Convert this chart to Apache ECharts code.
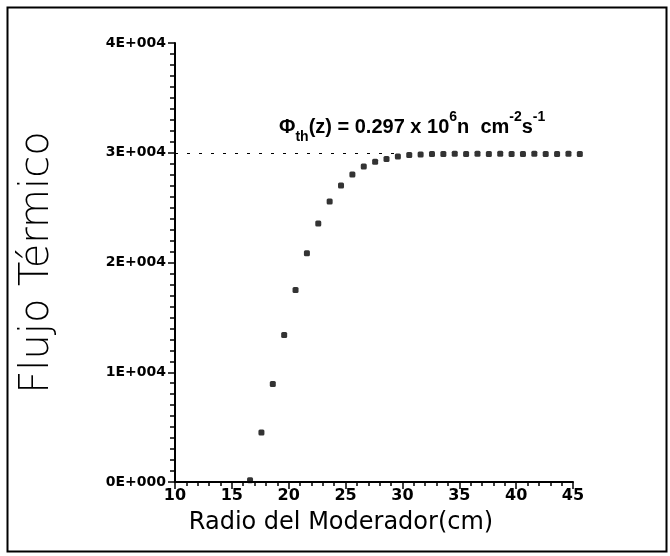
<!DOCTYPE html>
<html>
<head>
<meta charset="utf-8">
<script src="https://cdn.jsdelivr.net/npm/echarts@6/dist/echarts.min.js"></script>
<style>html,body{margin:0;padding:0;background:#fff}#c{width:670px;height:556px}</style>
</head>
<body>
<div id="c"></div>
<script>
// Data
var radius = [16.6, 17.6, 18.6, 19.6, 20.6, 21.6, 22.6, 23.6, 24.6, 25.6,
              26.6, 27.6, 28.6, 29.6, 30.6, 31.6, 32.6, 33.6, 34.6, 35.6,
              36.6, 37.6, 38.6, 39.6, 40.6, 41.6, 42.6, 43.6, 44.6, 45.6];
var flux = [150, 4500, 8940, 13400, 17500, 20850, 23550, 25560, 27020, 28020,
            28750, 29180, 29420, 29650, 29800, 29850, 29880, 29880, 29900, 29880,
            29900, 29880, 29900, 29880, 29880, 29900, 29880, 29880, 29900, 29880];
var yTickValues = [0, 10000, 20000, 30000, 40000];
var yTickLabels = ['0E+000', '1E+004', '2E+004', '3E+004', '4E+004'];
var refLevel = 30000;
var refFrom = 10, refTo = 30;
var xTitle = 'Radio del Moderador(cm)';
var yTitle = 'Flujo Térmico';

var chart = echarts.init(document.getElementById('c'), null, {renderer: 'canvas'});
var pts = radius.map(function (x, i) { return [x, flux[i]]; });
chart.setOption({
  animation: false,
  backgroundColor: '#fff',
  grid: {left: 175, right: 97, top: 43, bottom: 74, containLabel: false},
  xAxis: {
    type: 'value', min: 10, max: 45, interval: 5,
    axisLine: {lineStyle: {color: '#000', width: 2}},
    axisTick: {show: true, inside: false, length: 7, lineStyle: {color: '#000', width: 1.5}},
    minorTick: {show: true, splitNumber: 5, length: 4, lineStyle: {color: '#000', width: 1.5}},
    splitLine: {show: false},
    axisLabel: {color: '#000', fontFamily: 'DejaVu Sans', fontWeight: 'bold', fontSize: 16, margin: 6},
    name: xTitle, nameLocation: 'middle', nameGap: 29,
    nameTextStyle: {color: '#000', fontFamily: 'DejaVu Sans', fontSize: 24, padding: [0, 66, 0, 0]}
  },
  yAxis: {
    type: 'value', min: 0, max: 40000, interval: 10000,
    axisLine: {show: true, lineStyle: {color: '#000', width: 2}},
    axisTick: {show: true, inside: false, length: 7, lineStyle: {color: '#000', width: 1.5}},
    minorTick: {show: true, splitNumber: 10, length: 5, lineStyle: {color: '#000', width: 1.5}},
    splitLine: {show: false},
    axisLabel: {
      color: '#000', fontFamily: 'DejaVu Sans', fontWeight: 'bold', fontSize: 14, margin: 9,
      formatter: function (v) { var i = yTickValues.indexOf(v); return i >= 0 ? yTickLabels[i] : ''; }
    },
    name: yTitle, nameLocation: 'middle', nameGap: 117, nameRotate: 90,
    nameTextStyle: {color: '#000', fontFamily: 'DejaVu Sans', fontSize: 40, fontWeight: 'lighter'}
  },
  series: [{
    type: 'scatter',
    data: pts,
    symbol: 'roundRect',
    symbolSize: 6,
    clip: false,
    itemStyle: {color: '#000'},
    markLine: {
      silent: true,
      symbol: 'none',
      label: {show: false},
      lineStyle: {color: '#000', width: 1.2, type: [3, 9]},
      data: [[{coord: [refFrom, refLevel]}, {coord: [refTo, refLevel]}]]
    }
  }],
  graphic: [
    {type: 'rect', left: 5, top: 5, shape: {width: 659, height: 544},
     style: {fill: 'none', stroke: '#000', lineWidth: 2}, silent: true},
    {type: 'text', left: 279, top: 110,
     style: {
       text: '{b|Φ}{sub|th}{b|(z) = 0.297 x 10}{sup|6}{b|n  cm}{sup|-2}{b|s}{sup|-1}',
       rich: {
         b: {fontFamily: 'Liberation Sans', fontWeight: 'bold', fontSize: 20, lineHeight: 34, verticalAlign: 'middle', fill: '#000'},
         sub: {fontFamily: 'Liberation Sans', fontWeight: 'bold', fontSize: 14, lineHeight: 34, verticalAlign: 'bottom', fill: '#000'},
         sup: {fontFamily: 'Liberation Sans', fontWeight: 'bold', fontSize: 14, lineHeight: 34, verticalAlign: 'top', fill: '#000'}
       }
     }}
  ]
});
</script>
</body>
</html>
